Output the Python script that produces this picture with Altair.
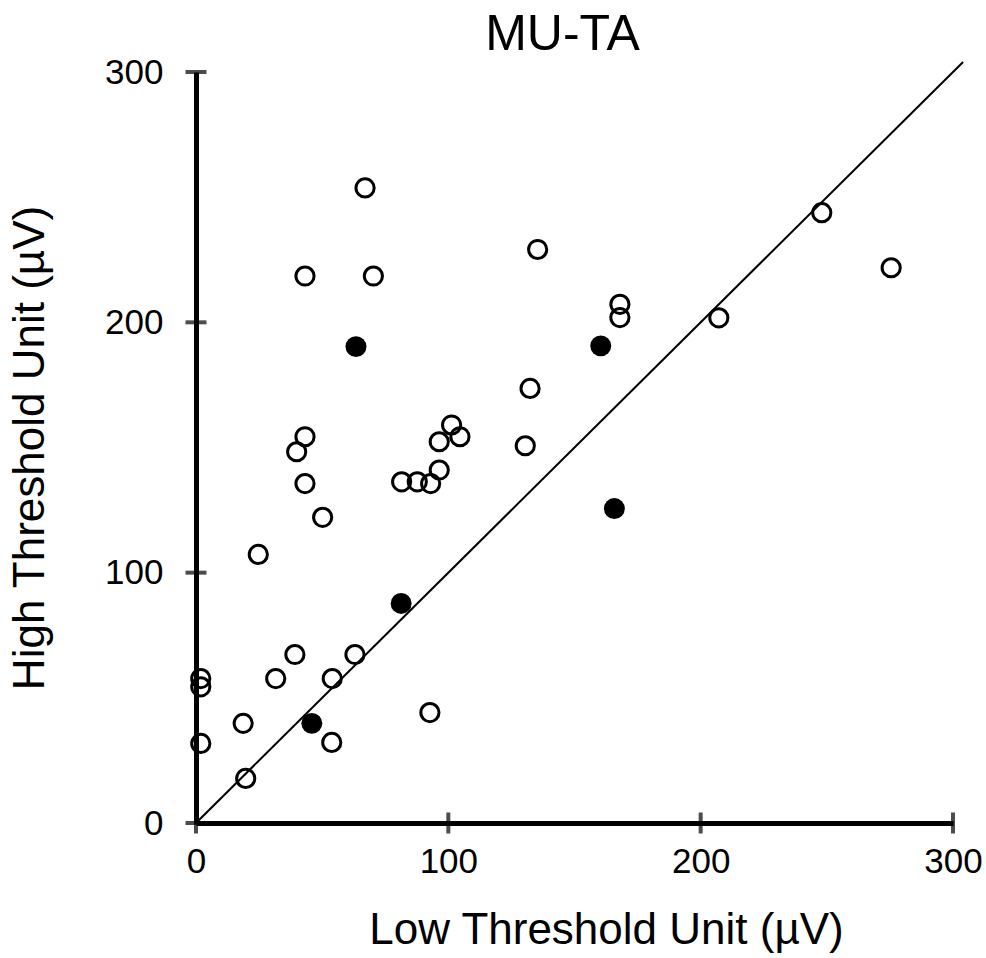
import altair as alt
import pandas as pd

# Open circles (low threshold, high threshold) in µV
open_x = [67, 43.2, 70.3, 43.2, 39.9, 101.3, 104.6, 96.4, 43.2, 50.2, 24.7, 96.4, 81.5, 87.7, 93.0,
          39.2, 63.0, 31.6, 54.0, 1.9, 1.9, 92.7, 18.7, 1.9, 53.8, 19.7,
          135.4, 168.0, 168.0, 132.4, 130.5, 248.0, 275.5, 207.2]
open_y = [253.7, 218.5, 218.5, 154.3, 148.3, 159.0, 154.3, 152.3, 135.6, 122.1, 107.3, 141.0, 136.3, 136.3, 135.6,
          67.3, 67.3, 57.7, 57.7, 57.7, 54.4, 44.1, 39.8, 31.8, 32.2, 17.8,
          229.1, 207.2, 201.9, 173.6, 150.7, 243.8, 221.8, 201.8]
# Filled circles
filled_x = [63.4, 81.3, 45.9, 160.4, 165.8]
filled_y = [190.3, 87.7, 39.8, 190.6, 125.6]
# Identity line
line_x = [0, 304]
line_y = [0, 304]
ticks = [0, 100, 200, 300]

open_df = pd.DataFrame({"x": open_x, "y": open_y})
filled_df = pd.DataFrame({"x": filled_x, "y": filled_y})
line_df = pd.DataFrame({"x": line_x, "y": line_y})
tick_df = pd.DataFrame({"t": ticks})

FONT = "Liberation Sans"
xscale = alt.Scale(domain=[0, 300], nice=False, zero=False)
yscale = alt.Scale(domain=[0, 300], nice=False, zero=False)

xaxis = alt.Axis(values=ticks, ticks=False, grid=False, domainWidth=5, domainColor="black",
                 labelFont=FONT, labelFontSize=35, labelColor="black", labelPadding=21,
                 labelFlush=False, title="Low Threshold Unit (µV)", titleFont=FONT,
                 titleFontSize=44, titleFontWeight="normal", titleColor="black", titlePadding=29,
                 titleX=410)
yaxis = alt.Axis(values=ticks, ticks=False, grid=False, domainWidth=5, domainColor="black",
                 labelFont=FONT, labelFontSize=35, labelColor="black", labelPadding=33,
                 labelFlush=False, title="High Threshold Unit (µV)", titleFont=FONT,
                 titleFontSize=44, titleFontWeight="normal", titleColor="black", titlePadding=52)

line = alt.Chart(line_df).mark_line(color="black", strokeWidth=2, clip=False).encode(
    x=alt.X("x:Q", scale=xscale, axis=xaxis),
    y=alt.Y("y:Q", scale=yscale, axis=yaxis),
)
opens = alt.Chart(open_df).mark_point(shape="circle", filled=False, color="black",
                                      strokeWidth=3, size=330, opacity=1).encode(
    x="x:Q", y="y:Q")
fills = alt.Chart(filled_df).mark_point(shape="circle", filled=True, color="black",
                                        size=440, opacity=1).encode(x="x:Q", y="y:Q")
xticks = alt.Chart(tick_df).mark_tick(color="black", thickness=4, size=21, orient="vertical").encode(
    x="t:Q", y=alt.value(751))
yticks = alt.Chart(tick_df).mark_tick(color="black", thickness=4, size=21, orient="horizontal").encode(
    y="t:Q", x=alt.value(0))

chart = alt.layer(line, opens, fills, xticks, yticks).properties(
    width=757, height=751,
    title=alt.TitleParams("MU-TA", font=FONT, fontSize=50, fontWeight="normal", color="black",
                          offset=-5, dx=-12),
    autosize=alt.AutoSizeParams(type="none"),
    padding={"left": 196, "top": 72, "right": 33, "bottom": 135},
    background="white",
).configure_view(strokeWidth=0, stroke="transparent")

chart.save("out.html", embed_options={"renderer": "svg", "actions": False})
